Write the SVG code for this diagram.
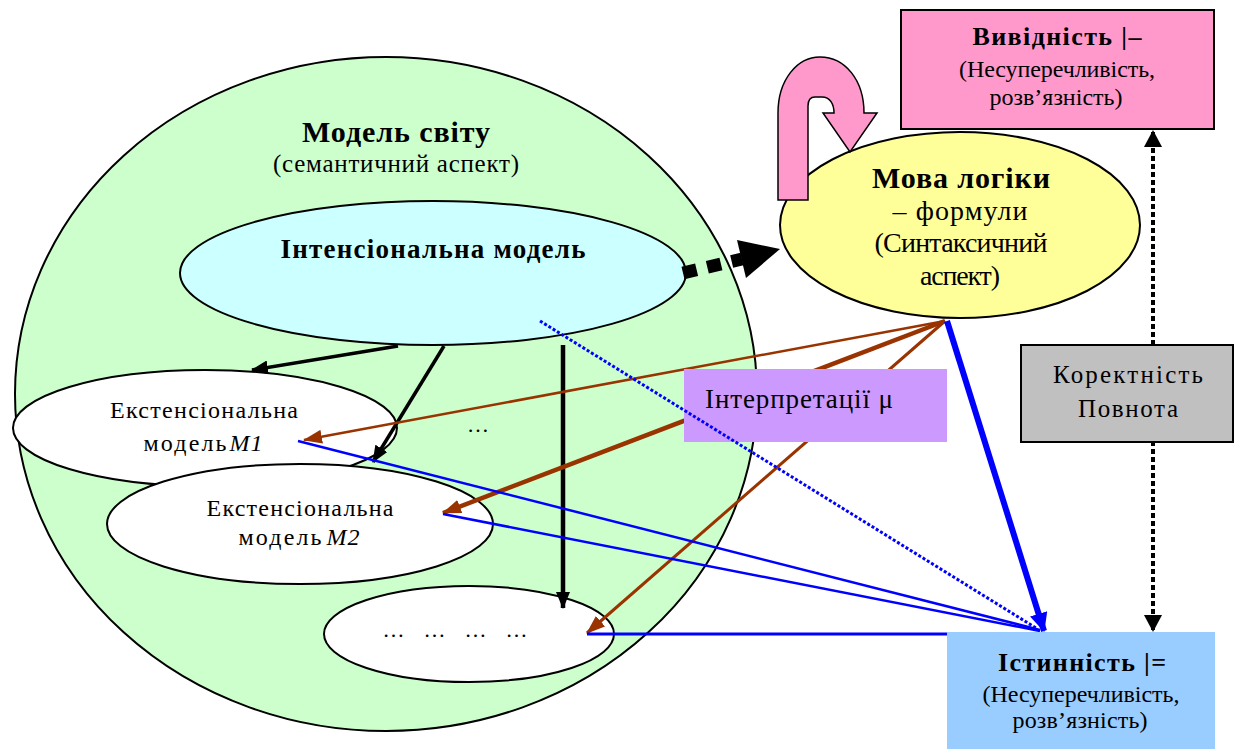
<svg xmlns="http://www.w3.org/2000/svg" width="1234" height="749" viewBox="0 0 1234 749">
<style>
.t{font-family:"Liberation Serif","Times New Roman",serif;fill:#000;text-anchor:middle}
.b{font-weight:bold}
.i{font-style:italic}
.ol{stroke:#000;stroke-width:2}
.blk{stroke:#000;fill:none}
.brn{stroke:#993300;fill:none}
.blu{stroke:#0000FF;fill:none}
</style>
<defs>
<marker id="hBlack" markerUnits="userSpaceOnUse" markerWidth="18" markerHeight="14" refX="16" refY="7" orient="auto"><path d="M0,0 L17,7 L0,14 z" fill="#000"/></marker>
<marker id="hBrown" markerUnits="userSpaceOnUse" markerWidth="20" markerHeight="14" refX="18" refY="7" orient="auto"><path d="M0,0 L19,7 L0,14 z" fill="#993300"/></marker>
<marker id="hBlue" markerUnits="userSpaceOnUse" markerWidth="20" markerHeight="18" refX="18" refY="9" orient="auto"><path d="M0,0 L19,9 L0,18 z" fill="#0000FF"/></marker>
<marker id="hDot" markerUnits="userSpaceOnUse" markerWidth="18" markerHeight="18" refX="16" refY="9" orient="auto"><path d="M0,0 L17,9 L0,18 z" fill="#000"/></marker>
</defs>
<rect width="1234" height="749" fill="#fff"/>

<g id="world">
<ellipse cx="386" cy="394" rx="371" ry="337" fill="#CCFFCC" class="ol"/>
<text class="t b" x="396" y="142" font-size="30" textLength="188" lengthAdjust="spacing">Модель світу</text>
<text class="t" x="396" y="172" font-size="25" textLength="246" lengthAdjust="spacing">(семантичний аспект)</text>
</g>

<g id="intensional">
<ellipse cx="433" cy="273" rx="253" ry="72" fill="#CCFFFF" class="ol"/>
<text class="t b" x="433" y="258" font-size="27" textLength="305" lengthAdjust="spacing">Інтенсіональна модель</text>
</g>

<g id="m1">
<ellipse cx="205" cy="428" rx="192" ry="58" fill="#fff" class="ol"/>
<text class="t" x="204" y="418" font-size="24" textLength="188" lengthAdjust="spacing">Екстенсіональна</text>
<text class="t" x="185" y="451" font-size="24" textLength="83" lengthAdjust="spacing">модель</text>
<text class="t i" x="246" y="451" font-size="24" textLength="33" lengthAdjust="spacing">M1</text>
</g>

<g id="m2">
<ellipse cx="300" cy="524" rx="193" ry="60" fill="#fff" class="ol"/>
<text class="t" x="300" y="516" font-size="24" textLength="187" lengthAdjust="spacing">Екстенсіональна</text>
<text class="t" x="280" y="545" font-size="24" textLength="83" lengthAdjust="spacing">модель</text>
<text class="t i" x="343" y="545" font-size="24" textLength="33" lengthAdjust="spacing">M2</text>
</g>

<g id="m3">
<ellipse cx="469" cy="634" rx="145" ry="48" fill="#fff" class="ol"/>
<text class="t" x="455" y="637" font-size="22" textLength="145" lengthAdjust="spacing">… … … …</text>
</g>

<g id="more">
<text class="t" x="478" y="432" font-size="22">…</text>
</g>

<g id="logic">
<ellipse cx="960" cy="225" rx="180" ry="93" fill="#FFFF99" class="ol"/>
<text class="t b" x="961" y="188" font-size="30" textLength="178" lengthAdjust="spacing">Мова логіки</text>
<text class="t" x="960" y="220" font-size="28" textLength="135" lengthAdjust="spacing">– формули</text>
<text class="t" x="961" y="252" font-size="28" textLength="173" lengthAdjust="spacing">(Синтаксичний</text>
<text class="t" x="960" y="285" font-size="28" textLength="80" lengthAdjust="spacing">аспект)</text>
</g>

<g id="selfloop">
<path d="M778,200 L778,113 C778,80 797,57 820,57 C845,57 864,80 864,113 L877,113 L850,152 L823,113 L834,113 C834,104 830,97 822,97 L815,97 C810,97 808,101 808,106 L808,200 Z" fill="#FF99CC" stroke="#000" stroke-width="1.5"/>
</g>

<g id="derivability">
<rect x="901" y="10" width="313" height="119" fill="#FF99CC" class="ol"/>
<text class="t b" x="1057" y="45" font-size="26" textLength="169" lengthAdjust="spacing">Вивідність |–</text>
<text class="t" x="1057" y="77" font-size="24" textLength="196" lengthAdjust="spacing">(Несуперечливість,</text>
<text class="t" x="1056" y="105" font-size="24" textLength="133" lengthAdjust="spacing">розв’язність)</text>
</g>

<g id="connectors">
<line x1="398" y1="346" x2="252" y2="370" class="blk" stroke-width="3.5" marker-end="url(#hBlack)"/>
<line x1="444" y1="346" x2="373" y2="462" class="blk" stroke-width="3.5" marker-end="url(#hBlack)"/>
<line x1="563" y1="345" x2="563" y2="608" class="blk" stroke-width="4.5" marker-end="url(#hBlack)"/>
<line x1="683" y1="273" x2="742" y2="259" stroke="#000" stroke-width="13" stroke-dasharray="14,11"/>
<polygon points="737,240 780,249 746,278" fill="#000"/>
<line x1="945" y1="321" x2="304" y2="440" class="brn" stroke-width="2.5" marker-end="url(#hBrown)"/>
<line x1="945" y1="321" x2="443" y2="513" class="brn" stroke-width="4.5" marker-end="url(#hBrown)"/>
<line x1="945" y1="321" x2="587" y2="633" class="brn" stroke-width="3" marker-end="url(#hBrown)"/>
<line x1="298" y1="441" x2="1040" y2="630" class="blu" stroke-width="2.5"/>
<line x1="443" y1="514" x2="1040" y2="631" class="blu" stroke-width="2.5"/>
<line x1="587" y1="634" x2="948" y2="634" class="blu" stroke-width="3"/>
<line x1="947" y1="321" x2="1044" y2="631" class="blu" stroke-width="6" marker-end="url(#hBlue)"/>
<line x1="1153" y1="441" x2="1153" y2="131" stroke="#000" stroke-width="4" stroke-dasharray="5,3" marker-end="url(#hDot)"/>
<line x1="1153" y1="345" x2="1153" y2="631" stroke="#000" stroke-width="4" stroke-dasharray="5,3" marker-end="url(#hDot)"/>
</g>

<g id="interpretation">
<rect x="684" y="369" width="263" height="73" fill="#CC99FF"/>
<text class="t" x="799" y="408" font-size="27" textLength="188" lengthAdjust="spacing">Інтерпретації μ</text>
</g>

<g id="dotted-connector">
<line x1="540" y1="321" x2="1036" y2="628" class="blu" stroke-width="3" stroke-dasharray="3,2"/>
</g>

<g id="correctness">
<rect x="1021" y="345" width="212" height="97" fill="#C0C0C0" class="ol"/>
<text class="t" x="1128" y="383" font-size="25" textLength="150" lengthAdjust="spacing">Коректність</text>
<text class="t" x="1128" y="417" font-size="25" textLength="100" lengthAdjust="spacing">Повнота</text>
</g>

<g id="truth">
<rect x="947" y="632" width="268" height="117" fill="#99CCFF"/>
<text class="t b" x="1082" y="671" font-size="26" textLength="168" lengthAdjust="spacing">Істинність |=</text>
<text class="t" x="1081" y="702" font-size="24" textLength="197" lengthAdjust="spacing">(Несуперечливість,</text>
<text class="t" x="1080" y="728" font-size="24" textLength="135" lengthAdjust="spacing">розв’язність)</text>
</g>
</svg>
